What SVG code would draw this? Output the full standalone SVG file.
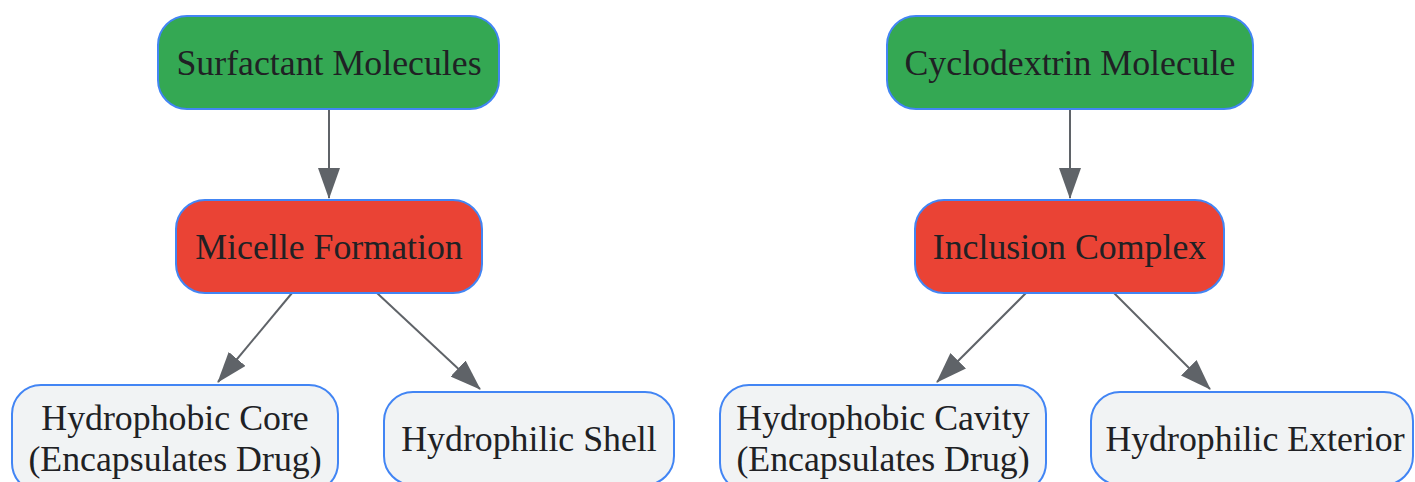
<svg xmlns="http://www.w3.org/2000/svg" width="1415" height="482" viewBox="0 0 1415 482">
<style>
.n rect{stroke:#4285f4;stroke-width:2}
.g rect{fill:#34a853}
.r rect{fill:#ea4335}
.w rect{fill:#f1f3f4}
.n text{font-family:"Liberation Serif",serif;font-size:35.8px;fill:#202124;text-anchor:middle}
.e line{stroke:#5f6368;stroke-width:2}
</style>
<defs>
<marker id="ah" markerUnits="userSpaceOnUse" markerWidth="31" markerHeight="22" viewBox="0 0 31 22" refX="30" refY="11" orient="auto">
<path d="M0,0 L31,11 L0,22 z" fill="#5f6368"/>
</marker>
</defs>
<g id="edges" class="e">
<line x1="329" y1="109" x2="329" y2="198" marker-end="url(#ah)"/>
<line x1="292" y1="293" x2="218" y2="382" marker-end="url(#ah)"/>
<line x1="377" y1="293" x2="480" y2="389" marker-end="url(#ah)"/>
<line x1="1070" y1="109" x2="1070" y2="198" marker-end="url(#ah)"/>
<line x1="1026" y1="293" x2="937" y2="382" marker-end="url(#ah)"/>
<line x1="1114" y1="293" x2="1210" y2="389" marker-end="url(#ah)"/>
</g>
<g id="surfactant" class="n g">
<rect x="158" y="16" width="341" height="93" rx="29"/>
<text x="329" y="75">Surfactant Molecules</text>
</g>
<g id="micelle" class="n r">
<rect x="176" y="200" width="306" height="93" rx="29"/>
<text x="329" y="259">Micelle Formation</text>
</g>
<g id="core" class="n w">
<rect x="12" y="385" width="326" height="107" rx="29"/>
<text x="175" y="430">Hydrophobic Core</text>
<text x="175" y="471">(Encapsulates Drug)</text>
</g>
<g id="shell" class="n w">
<rect x="384" y="392" width="290" height="93" rx="29"/>
<text x="529" y="451">Hydrophilic Shell</text>
</g>
<g id="cyclodextrin" class="n g">
<rect x="887" y="16" width="366" height="93" rx="29"/>
<text x="1070" y="75">Cyclodextrin Molecule</text>
</g>
<g id="inclusion" class="n r">
<rect x="915" y="200" width="309" height="93" rx="29"/>
<text x="1069.5" y="259">Inclusion Complex</text>
</g>
<g id="cavity" class="n w">
<rect x="720" y="385" width="326" height="107" rx="29"/>
<text x="883" y="430">Hydrophobic Cavity</text>
<text x="883" y="471">(Encapsulates Drug)</text>
</g>
<g id="exterior" class="n w">
<rect x="1091" y="392" width="322" height="93" rx="29"/>
<text x="1255" y="451">Hydrophilic Exterior</text>
</g>
</svg>
